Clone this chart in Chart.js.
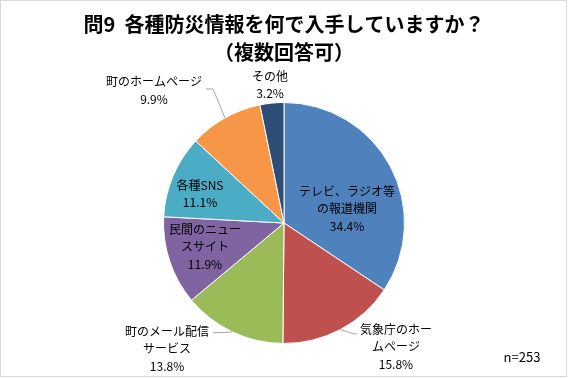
<!DOCTYPE html>
<html lang="ja">
<head>
<meta charset="utf-8">
<script src="https://cdn.jsdelivr.net/npm/chart.js@4"></script>
<style>
  html, body { margin: 0; padding: 0; background: #fff; }
  canvas { display: block; }
</style>
</head>
<body>
<canvas id="pie" width="568" height="378"></canvas>
<script>
// values
const categories = ["テレビ、ラジオ等の報道機関", "気象庁のホームページ", "町のメール配信サービス",
  "民間のニュースサイト", "各種SNS", "町のホームページ", "その他"];
const shares = [34.4, 15.8, 13.8, 11.9, 11.1, 9.9, 3.2];
const wrapped = [["テレビ、ラジオ等", "の報道機関"], ["気象庁のホー", "ムページ"], ["町のメール配信", "サービス"],
  ["民間のニュー", "スサイト"], ["各種SNS"], ["町のホームページ"], ["その他"]];
const titleLines = ["問9  各種防災情報を何で入手していますか？", "（複数回答可）"];
const sampleNote = "n=253";

const sliceColors = ["#4F81BD", "#C0504D", "#9BBB59", "#8064A2", "#4BACC6", "#F79646", "#2C4D75"];
const JP = '"Noto Sans CJK JP", "Noto Sans", sans-serif';

// label block centre, as a fraction of the radius from the pie centre
// lead = side of the text where the leader line attaches
const labelSpots = [
  { fx: 0.523, fy: -0.120 },
  { fx: 0.929, fy: 1.027, lead: "left", dy: -13 },
  { fx: -0.971, fy: 1.043, lead: "right", dy: -16 },
  { fx: -0.656, fy: 0.197 },
  { fx: -0.697, fy: -0.241 },
  { fx: -1.079, fy: -1.100, lead: "right", dy: -1.5 },
  { fx: -0.116, fy: -1.145 }
];

const pieLabels = {
  id: "pieLabels",
  beforeDraw(chart) {
    const c = chart.ctx;
    c.save();
    c.fillStyle = "#fff";
    c.fillRect(0, 0, chart.width, chart.height);
    c.restore();
  },
  afterDatasetsDraw(chart) {
    const c = chart.ctx;
    const meta = chart.getDatasetMeta(0);
    const lh = 17.5;
    c.save();
    c.textAlign = "center";
    c.textBaseline = "middle";
    meta.data.forEach((arc, i) => {
      const p = arc.getProps(["x", "y", "startAngle", "endAngle", "outerRadius"], true);
      const r = p.outerRadius;
      const spot = labelSpots[i];
      const cx = p.x + r * spot.fx;
      const cy = p.y + r * spot.fy;
      const lines = wrapped[i].concat([shares[i].toFixed(1) + "%"]);
      const top = cy - (lines.length - 1) * lh / 2;

      // leader line
      if (spot.lead) {
        c.font = "12px " + JP;
        const w1 = c.measureText(lines[0]).width;
        const mid = (p.startAngle + p.endAngle) / 2;
        const sx = p.x + r * Math.cos(mid), sy = p.y + r * Math.sin(mid);
        let ex, kx;
        if (spot.lead === "right") { ex = cx + w1 / 2 + 4; kx = ex + 7; }
        else { ex = cx - w1 / 2 - 3; kx = ex - 4; }
        const ey = cy + spot.dy;
        c.strokeStyle = "#A6A6A6";
        c.lineWidth = 1;
        c.beginPath();
        c.moveTo(sx, sy);
        c.lineTo(kx, ey);
        c.lineTo(ex, ey);
        c.stroke();
      }

      c.fillStyle = "#000";
      lines.forEach((t, j) => {
        c.font = "12px " + JP;
        c.fillText(t, cx, top + j * lh);
      });
    });

    c.font = "13px " + JP;
    c.fillText(sampleNote, 522, 357);

    // outer frame
    c.strokeStyle = "#D9D9D9";
    c.lineWidth = 1;
    c.strokeRect(0.5, 0.5, 566, 376);
    c.restore();
  }
};

new Chart(document.getElementById("pie"), {
  type: "pie",
  data: {
    labels: categories,
    datasets: [{
      data: shares,
      backgroundColor: sliceColors,
      borderColor: "#fff",
      borderWidth: 1
    }]
  },
  options: {
    responsive: false,
    animation: false,
    devicePixelRatio: 1,
    layout: { padding: { top: 0, bottom: 34, left: 0, right: 0 } },
    plugins: {
      legend: { display: false },
      tooltip: { enabled: false },
      title: {
        display: true,
        text: titleLines,
        color: "#000",
        font: { family: JP, size: 20, weight: "bold", lineHeight: 1.4 },
        padding: { top: 10, bottom: 36 }
      }
    }
  },
  plugins: [pieLabels]
});
</script>
</body>
</html>
